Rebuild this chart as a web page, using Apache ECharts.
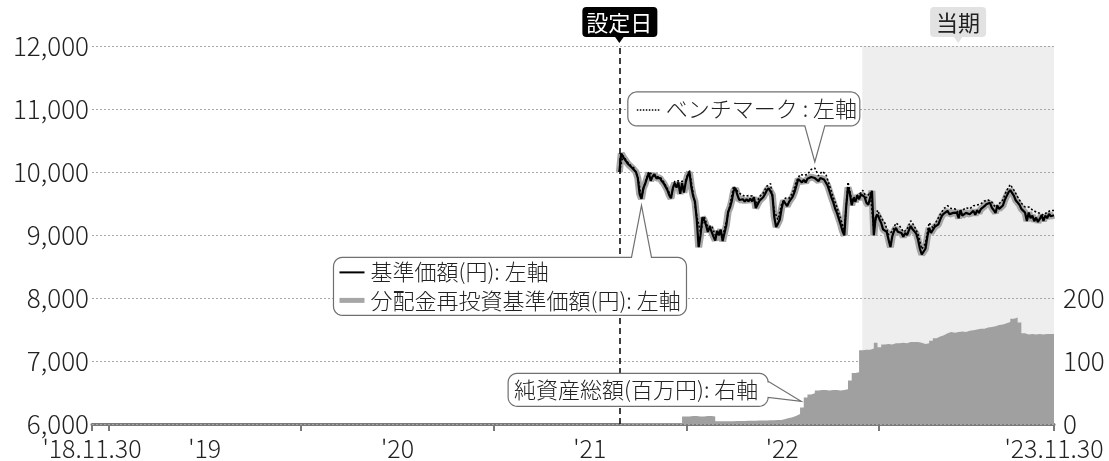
<!DOCTYPE html>
<html><head><meta charset="utf-8">
<script src="https://cdn.jsdelivr.net/npm/echarts@6/dist/echarts.min.js"></script>
<style>html,body{margin:0;padding:0;background:#fff}#c{width:1109px;height:461px}</style>
</head><body><div id="c"></div>
<script>
const FONT = '"Noto Sans CJK JP", "Noto Sans", sans-serif';
const FW = 300;

// ---- data ----
const axisStart = '2018-11-30';
const axisEnd = '2023-11-30';
const setDate = '2021-08-27';          // 設定日
const periodStart = '2022-12-01';      // 当期
const periodEnd = '2023-11-30';
const priceStepDays = 3.5;             // twice-weekly price observations from setDate (last one at axisEnd)
const weeklyStepDays = 7;              // weekly benchmark / net-asset observations (last one at axisEnd)

const xTickDates = ['2018-11-30','2019-01-01','2020-01-01','2021-01-01','2022-01-01','2023-01-01','2023-11-30'];
const xLabelDates = ['2018-11-30','2019-07-02','2020-07-02','2021-07-02','2022-07-02','2023-11-30'];
const xLabelTexts = ["'18.11.30","'19","'20","'21","'22","'23.11.30"];

// 基準価額 (円), twice weekly
const basePrice = [
10000,10294,10241,10198,10155,10118,10091,10064,10037,10000,
9904,9650,9575,9743,9813,9904,9984,9861,9930,9963,
9904,9888,9904,9856,9823,9797,9716,9636,9583,9743,
9823,9754,9834,9652,9823,9674,9840,9941,9995,9770,
9620,9529,9235,8807,8994,9278,9235,9155,9048,9128,
9101,8978,8914,9064,8994,9085,8903,8914,9155,9369,
9438,9545,9706,9738,9636,9556,9572,9567,9529,9567,
9535,9577,9535,9599,9428,9422,9545,9556,9599,9652,
9711,9743,9738,9636,9288,9128,9181,9246,9422,9545,
9502,9460,9524,9502,9609,9684,9781,9888,9877,9834,
9877,9834,9893,9877,9920,9920,9904,9920,9856,9904,
9930,9882,9888,9781,9690,9599,9520,9420,
9351,9261,9170,9064,8995,9447,9755,9660,9473,9585,
9527,9628,9569,9644,9633,9606,9511,9479,9452,9702,
8995,9276,9324,9255,9191,9090,9117,9048,8925,8808,
8979,9064,9112,9053,9064,9032,8973,9032,9000,9074,
9143,9090,9058,9021,8925,8782,8691,8697,8782,8968,
9112,9032,9032,9128,9138,9170,9245,9308,9340,9330,
9383,9330,9340,9351,9330,9356,9266,9394,9308,9298,
9351,9356,9330,9314,9383,9319,9394,9351,9410,9383,
9457,9489,9468,9511,9436,9394,9351,9463,9415,9410,
9468,9553,9617,9676,9713,9686,9622,9548,9516,9479,
9415,9415,9356,9223,9356,9266,9308,9218,9276,9207,
9255,9314,9223,9308,9266,9335,9298,9319,
9314];
// 分配金再投資基準価額 (円) — no distributions were paid, so it equals the base price
const reinvestedPrice = basePrice.slice();
// ベンチマーク, weekly
const benchmark = [
10000,10260,10170,10105,10060,9925,9600,9840,10005,9950,
9925,9925,9845,9740,9610,9850,9860,9850,9870,10030,
9660,9300,9040,9295,9125,9150,8995,9075,8970,9210,
9480,9775,9695,9645,9615,9625,9620,9485,9610,9665,
9775,9815,9380,9245,9490,9585,9580,9670,9850,9960,
9950,9960,10040,10060,9940,10010,9965,9780,9600,9440,
9255,9075,9840,9550,9615,9640,9710,9590,9680,9080,
9395,9270,9190,9005,9060,9190,9145,9050,9085,9225,
9140,9010,8775,8865,9195,9115,9220,9325,9420,9465,
9420,9415,9350,9390,9435,9415,9465,9475,9495,9540,
9555,9520,9440,9500,9555,9705,9800,9710,9605,9505,
9445,9445,9400,9365,9345,9315,9360,9390,
9390];
// 純資産総額 (百万円), weekly
const netAssets = [
1,1,1,1,1,1,1,1,1,1,1,1,1,1,1,1,1,
12,12,12.5,12.5,12,12,12.5,12.5,12,
4.3,4.3,4.4,4.5,4.5,4.6,4.8,4.9,5.0,5.1,5.2,5.4,5.5,5.6,5.8,6.0,6.2,6.4,
8,9.6,10.6,13,16,26,42,47,49,53,54,54,53,54,54,53,54,55,
69,81,82,117,118,118,120,129,122,126,127,126,128,128,129,128,130,130,130,
129,127,128,132,136,139,141,144,146,145,146,147,146,148,149,150,151,151,153,154,
155,157,158,160,162,167,169,161,144,142,143,142,143,142,143,143,143,
143];

// ---- helpers ----
function ts(s){ const p = s.split('-').map(Number); return Date.UTC(p[0], p[1]-1, p[2]); }
const DAY = 86400000;
const makeDates = (n, step) => Array.from({length: n}, (_, i) => i === n-1 ? ts(axisEnd) : ts(setDate) + i*step*DAY);
const priceDates = makeDates(basePrice.length, priceStepDays);
const weekDates = makeDates(benchmark.length, weeklyStepDays);
const pair = (arr, ds) => arr.map((v,i) => [ds[i], v]);
const labelMap = {};
xLabelDates.forEach((d,i) => { labelMap[ts(d)] = xLabelTexts[i]; });

const chart = echarts.init(document.getElementById('c'), null, {renderer:'canvas'});
chart.setOption({
  animation: false,
  textStyle: {fontFamily: FONT},
  grid: {left: 92, right: 55, top: 46, bottom: 37},
  xAxis: {
    type: 'value', min: ts(axisStart), max: ts(axisEnd),
    axisLine: {lineStyle: {color: '#7a7a7a', width: 3}},
    axisTick: {show: true, customValues: xTickDates.map(ts), length: 7, lineStyle: {color: '#7a7a7a', width: 2}},
    axisLabel: {customValues: xLabelDates.map(ts), formatter: v => labelMap[v] || '', fontSize: 25, fontWeight: FW, color: '#222', margin: 12, fontFamily: FONT, showMinLabel: true, showMaxLabel: true},
    splitLine: {show: false}
  },
  yAxis: [{
    type: 'value', min: 6000, max: 12000, interval: 1000, z: 2,
    axisLine: {show: false}, axisTick: {show: false},
    axisLabel: {formatter: v => v.toLocaleString('en-US'), fontSize: 26, fontWeight: FW, color: '#222', margin: 3, fontFamily: FONT},
    splitLine: {lineStyle: {color: '#a8a8a8', type: [2, 2], width: 1}}
  }, {
    type: 'value', min: 0, max: 600, interval: 100, position: 'right', z: 2,
    axisLine: {show: false}, axisTick: {show: false}, splitLine: {show: false},
    axisLabel: {formatter: v => v <= 200 ? String(v) : '', fontSize: 26, fontWeight: FW, color: '#222', margin: 9, fontFamily: FONT}
  }],
  series: [{
    name: '純資産総額', type: 'line', yAxisIndex: 1, step: 'end', symbol: 'none', z: 3,
    lineStyle: {width: 0}, areaStyle: {color: '#a0a0a0', opacity: 1},
    data: pair(netAssets, weekDates),
    markArea: {silent: true, z: 1, itemStyle: {color: '#eeeeee'}, data: [[{xAxis: ts(periodStart)}, {xAxis: ts(periodEnd)}]]}
  }, {
    name: '分配金再投資基準価額', type: 'line', symbol: 'none', z: 4,
    lineStyle: {color: '#a6a6a6', width: 7}, data: pair(reinvestedPrice, priceDates)
  }, {
    name: '基準価額', type: 'line', symbol: 'none', z: 5,
    lineStyle: {color: '#000', width: 2.2}, data: pair(basePrice, priceDates),
    markLine: {silent: true, symbol: 'none', z: 6, label: {show: false},
      lineStyle: {color: '#000', type: [6, 4], width: 1.5}, data: [{xAxis: ts(setDate)}]}
  }, {
    name: 'ベンチマーク', type: 'line', symbol: 'none', z: 6,
    lineStyle: {color: '#000', width: 1.6, type: [2, 2]}, data: pair(benchmark, weekDates)
  }]
});

// ---- annotations ----
const toPx = (d, v, yi) => chart.convertToPixel({xAxisIndex: 0, yAxisIndex: yi || 0}, [typeof d === 'string' ? ts(d) : d, v]);
function arc(cx, cy, r, a0, a1, out){ for (let i = 0; i <= 6; i++){ const a = (a0 + (a1-a0)*i/6) * Math.PI/180; out.push([cx + r*Math.cos(a), cy + r*Math.sin(a)]); } }
function callout(x0, y0, x1, y1, r, side, p1, p2, tip){
  const pts = [];
  pts.push([x0+r, y0]);
  if (side === 'top'){ pts.push([p1, y0], tip, [p2, y0]); }
  arc(x1-r, y0+r, r, -90, 0, pts);
  if (side === 'right'){ pts.push([x1, p1], tip, [x1, p2]); }
  arc(x1-r, y1-r, r, 0, 90, pts);
  if (side === 'bottom'){ pts.push([p2, y1], tip, [p1, y1]); }
  arc(x0+r, y1-r, r, 90, 180, pts);
  arc(x0+r, y0+r, r, 180, 270, pts);
  return {type: 'polygon', shape: {points: pts}, style: {fill: '#fff', stroke: '#707070', lineWidth: 1.2}, z: 100};
}
const txt = (x, y, s, opt) => ({type: 'text', z: 101, style: Object.assign({x, y, text: s, font: FW + ' 22px ' + FONT, fill: '#222', verticalAlign: 'middle', textAlign: 'left'}, opt || {})});

const g = [];
const gridTop = 46;
// 設定日
const sx = toPx(setDate, 12000)[0];
g.push({type: 'rect', z: 100, shape: {x: sx-37, y: 7, width: 75, height: 30, r: 4}, style: {fill: '#000'}});
g.push({type: 'polygon', z: 100, shape: {points: [[sx-5, 36], [sx+5, 36], [sx, gridTop-3]]}, style: {fill: '#000'}});
g.push(txt(sx, 22.5, '設定日', {fill: '#fff', textAlign: 'center', font: '400 22px ' + FONT}));
// 当期
const px0 = toPx(periodStart, 12000)[0], px1 = toPx(periodEnd, 12000)[0];
const pcx = (px0 + px1) / 2;
g.push({type: 'rect', z: 100, shape: {x: pcx-28, y: 7, width: 56, height: 30, r: 4}, style: {fill: '#e2e2e2'}});
g.push({type: 'polygon', z: 100, shape: {points: [[pcx-5, 36], [pcx+5, 36], [pcx, gridTop-3]]}, style: {fill: '#e2e2e2'}});
g.push(txt(pcx, 22.5, '当期', {textAlign: 'center', font: '400 22px ' + FONT}));

// benchmark callout
const t1 = toPx(weekDates[53], 10160);
g.push(callout(t1[0]-187, t1[1]-70, t1[0]+45, t1[1]-36, 9, 'bottom', t1[0]-10, t1[0]+10, t1));
g.push({type: 'line', z: 101, shape: {x1: t1[0]-178, y1: t1[1]-52, x2: t1[0]-155, y2: t1[1]-52}, style: {stroke: '#000', lineWidth: 1.5, lineDash: [1.5, 1.5]}});
g.push(txt(t1[0]-149, t1[1]-53, 'ベンチマーク : 左軸'));

// legend callout for base / reinvested price
const t2 = toPx(weekDates[6], 9470);
g.push(callout(t2[0]-308, t2[1]+52, t2[0]+45, t2[1]+110, 9, 'top', t2[0]-10, t2[0]+10, t2));
g.push({type: 'line', z: 101, shape: {x1: t2[0]-302, y1: t2[1]+67, x2: t2[0]-277, y2: t2[1]+67}, style: {stroke: '#000', lineWidth: 2}});
g.push({type: 'line', z: 101, shape: {x1: t2[0]-302, y1: t2[1]+95, x2: t2[0]-277, y2: t2[1]+95}, style: {stroke: '#a6a6a6', lineWidth: 5}});
g.push(txt(t2[0]-271, t2[1]+66, '基準価額(円): 左軸'));
g.push(txt(t2[0]-271, t2[1]+95, '分配金再投資基準価額(円): 左軸'));

// net assets callout
const t3 = toPx(weekDates[49] + 2*DAY, 36, 1);
g.push(callout(t3[0]-293, t3[1]-28, t3[0]-33, t3[1]+5, 9, 'right', t3[1]-20, t3[1]-4, t3));
g.push(txt(t3[0]-287, t3[1]-12, '純資産総額(百万円): 右軸'));

chart.setOption({graphic: g});
</script></body></html>
